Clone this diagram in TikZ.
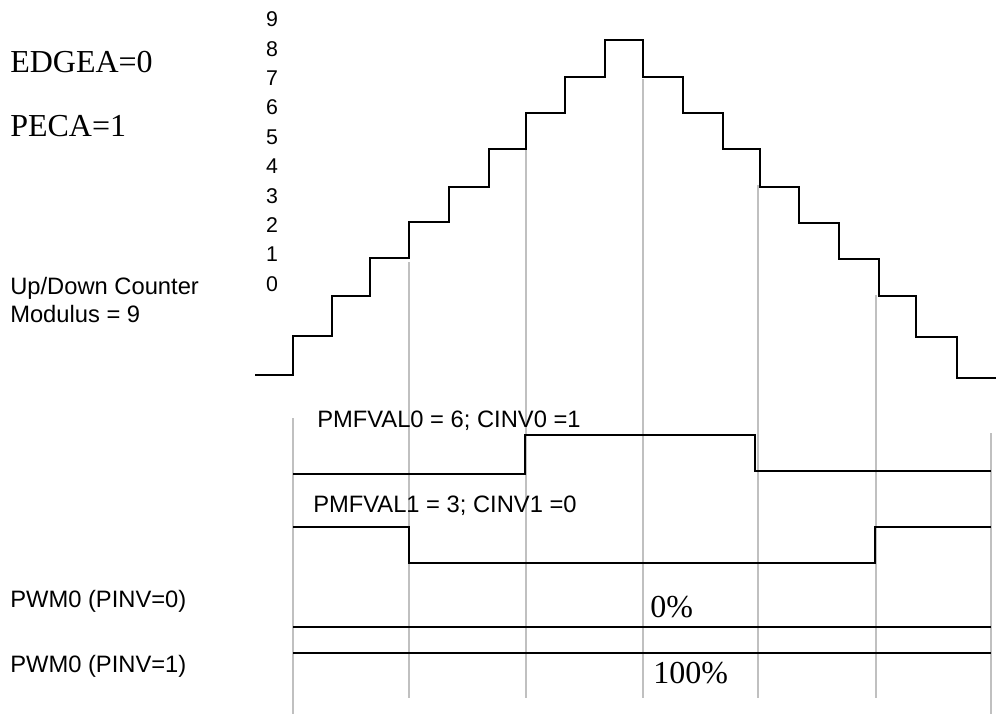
\documentclass[tikz,border=0pt]{standalone}
\usepackage{fontspec}
\setmainfont{Liberation Serif}
\setsansfont{Liberation Sans}
\usetikzlibrary{positioning}
\definecolor{gridgray}{HTML}{C0C0C0}

\begin{document}
\begin{tikzpicture}[
    x=0.75pt, y=-0.75pt,
    sigtext/.style={anchor=base west, inner sep=0pt, font=\sffamily\fontsize{17.8}{21}\selectfont},
    regtext/.style={anchor=base west, inner sep=0pt, font=\rmfamily\fontsize{24}{28}\selectfont},
    ticknum/.style={inner sep=0pt, font=\sffamily\fontsize{16}{19}\selectfont},
    gridline/.style={draw=gridgray, line width=1pt},
    wave/.style={draw=black, line width=1.5pt}
]
\useasboundingbox (0,0) rectangle (996,714);

% ==================== LEFT SIDE: SETTINGS ====================
\node[regtext] (edgea) at (10,72) {EDGEA=0};
\node[regtext] (peca) at (10,136) {PECA=1};
\node[sigtext] (counter) at (10,294) {Up/Down Counter};
\node[sigtext] (modulus) at (10,322) {Modulus = 9};
\node[sigtext] (pwmlow) at (10,607) {PWM0 (PINV=0)};
\node[sigtext] (pwmhigh) at (10,672) {PWM0 (PINV=1)};

% ==================== COUNTER VALUES ====================
\node[ticknum] (n0) at (272,284) {0};
\node[ticknum] (n1) at (272,254.6) {1};
\node[ticknum] (n2) at (272,225.2) {2};
\node[ticknum] (n3) at (272,195.8) {3};
\node[ticknum] (n4) at (272,166.4) {4};
\node[ticknum] (n5) at (272,137) {5};
\node[ticknum] (n6) at (272,107.6) {6};
\node[ticknum] (n7) at (272,78.2) {7};
\node[ticknum] (n8) at (272,48.8) {8};
\node[ticknum] (n9) at (272,19.4) {9};

% ==================== TIME MARKERS ====================
\draw[gridline] (293,418) -- (293,714);
\draw[gridline] (409,262) -- (409,698);
\draw[gridline] (526,150) -- (526,698);
\draw[gridline] (643,79) -- (643,698);
\draw[gridline] (758,185) -- (758,698);
\draw[gridline] (876,295) -- (876,698);
\draw[gridline] (991,433) -- (991,714);

% ==================== COUNTER STAIRCASE ====================
\draw[wave] (255,375) -- (293,375) -- (293,336) -- (332,336) -- (332,296) -- (370,296)
  -- (370,258) -- (409,258) -- (409,222) -- (449,222) -- (449,187) -- (489,187)
  -- (489,149) -- (526,149) -- (526,113) -- (565,113) -- (565,77) -- (605,77)
  -- (605,40) -- (643,40) -- (643,77) -- (683,77) -- (683,113) -- (723,113)
  -- (723,149) -- (760,149) -- (760,187) -- (799,187) -- (799,223) -- (839,223)
  -- (839,259) -- (879,259) -- (879,296) -- (916,296) -- (916,337) -- (957,337)
  -- (957,378) -- (996,378);

% ==================== COMPARE OUTPUTS ====================
\node[sigtext] (cmp0) at (317,427) {PMFVAL0 = 6; CINV0 =1};
\draw[wave] (293,474) -- (525,474) -- (525,435) -- (755,435) -- (755,471) -- (991,471);

\node[sigtext] (cmp1) at (313,512) {PMFVAL1 = 3; CINV1 =0};
\draw[wave] (293,527) -- (409,527) -- (409,563) -- (875,563) -- (875,527) -- (991,527);

% ==================== PWM OUTPUTS ====================
\node[regtext] (zero) at (650,617) {0\%};
\draw[wave] (293,627) -- (991,627);
\draw[wave] (293,653) -- (991,653);
\node[regtext] (full) at (653,683) {100\%};

\end{tikzpicture}
\end{document}
